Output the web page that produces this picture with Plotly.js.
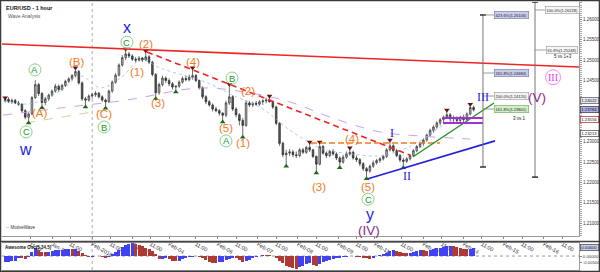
<!DOCTYPE html>
<html>
<head>
<meta charset="utf-8">
<script src="https://cdn.plot.ly/plotly-3.0.1.min.js"></script>
<style>
  html, body { margin: 0; padding: 0; background: #fff; }
  #chart { width: 600px; height: 272px; }
</style>
</head>
<body>
<div id="chart"></div>
<script>
// EUR/USD hourly wave count, drawn with two-hour candles on a trading-hour axis
// (hour 0 = Jan-31 00:00, weekends removed), plus the Awesome Oscillator below.

const FIRST_BAR_CENTER = -28;
const BAR_HOURS = 2;

const barOpen = [
  1.2400,1.2404,1.2398,1.2401,1.2395,1.2392,1.2376,1.2360,1.2368,1.2408,
  1.2440,1.2418,1.2396,1.2405,1.2414,1.2424,1.2436,1.2428,1.2438,1.2448,
  1.2454,1.2462,1.2472,1.2444,1.2405,1.2402,1.2412,1.2415,1.2419,1.2410,
  1.2402,1.2398,1.2424,1.2446,1.2463,1.2488,1.2506,1.2515,1.2510,1.2502,
  1.2500,1.2505,1.2500,1.2508,1.2495,1.2465,1.2420,1.2440,1.2456,1.2450,
  1.2442,1.2434,1.2436,1.2446,1.2455,1.2452,1.2458,1.2462,1.2450,1.2432,
  1.2410,1.2398,1.2390,1.2380,1.2376,1.2370,1.2365,1.2395,1.2410,1.2380,
  1.2366,1.2352,1.2340,1.2395,1.2390,1.2394,1.2392,1.2398,1.2400,1.2402,
  1.2398,1.2385,1.2345,1.2296,1.2268,1.2272,1.2275,1.2268,1.2266,1.2280,
  1.2274,1.2286,1.2280,1.2264,1.2245,1.2288,1.2272,1.2266,1.2276,1.2270,
  1.2260,1.2250,1.2262,1.2270,1.2274,1.2260,1.2256,1.2246,1.2234,1.2228,
  1.2240,1.2248,1.2254,1.2258,1.2264,1.2280,1.2290,1.2278,1.2266,1.2255,
  1.2252,1.2258,1.2266,1.2278,1.2288,1.2296,1.2304,1.2316,1.2328,1.2336,
  1.2346,1.2354,1.2360,1.2366,1.2356,1.2358,1.2352,1.2360,1.2354,1.2368,
  1.2384
];
const barHigh = [
  1.2408,1.2409,1.2406,1.2405,1.2400,1.2394,1.2380,1.2372,1.2412,1.2451,
  1.2444,1.2422,1.2410,1.2418,1.2428,1.2442,1.2440,1.2442,1.2452,1.2458,
  1.2466,1.2481,1.2476,1.2448,1.2410,1.2416,1.2420,1.2424,1.2422,1.2414,
  1.2406,1.2428,1.2450,1.2468,1.2492,1.2512,1.2527,1.2520,1.2514,1.2508,
  1.2510,1.2508,1.2523,1.2512,1.2498,1.2468,1.2445,1.2462,1.2460,1.2455,
  1.2446,1.2438,1.2450,1.2460,1.2462,1.2464,1.2481,1.2466,1.2452,1.2436,
  1.2414,1.2402,1.2394,1.2386,1.2380,1.2372,1.2400,1.2441,1.2414,1.2384,
  1.2370,1.2358,1.2402,1.2400,1.2398,1.2400,1.2402,1.2404,1.2408,1.2412,
  1.2400,1.2388,1.2348,1.2300,1.2280,1.2282,1.2280,1.2276,1.2284,1.2285,
  1.2290,1.2299,1.2282,1.2266,1.2299,1.2292,1.2276,1.2280,1.2282,1.2274,
  1.2264,1.2268,1.2276,1.2285,1.2278,1.2266,1.2260,1.2250,1.2238,1.2244,
  1.2254,1.2258,1.2262,1.2268,1.2284,1.2304,1.2294,1.2282,1.2270,1.2260,
  1.2262,1.2270,1.2282,1.2292,1.2300,1.2308,1.2320,1.2332,1.2340,1.2350,
  1.2358,1.2364,1.2378,1.2370,1.2364,1.2362,1.2364,1.2366,1.2372,1.2392,
  1.2388
];
const barLow = [
  1.2396,1.2395,1.2393,1.2392,1.2388,1.2372,1.2355,1.2346,1.2365,1.2405,
  1.2412,1.2383,1.2390,1.2400,1.2410,1.2420,1.2422,1.2425,1.2434,1.2444,
  1.2450,1.2458,1.2440,1.2400,1.2385,1.2398,1.2406,1.2410,1.2406,1.2398,
  1.2382,1.2395,1.2420,1.2442,1.2460,1.2484,1.2500,1.2505,1.2498,1.2494,
  1.2496,1.2495,1.2498,1.2490,1.2460,1.2405,1.2415,1.2436,1.2444,1.2436,
  1.2428,1.2422,1.2432,1.2442,1.2448,1.2448,1.2452,1.2446,1.2428,1.2405,
  1.2392,1.2386,1.2374,1.2372,1.2364,1.2348,1.2360,1.2390,1.2375,1.2360,
  1.2340,1.2311,1.2336,1.2385,1.2384,1.2388,1.2388,1.2390,1.2394,1.2396,
  1.2380,1.2340,1.2290,1.2262,1.2240,1.2265,1.2262,1.2260,1.2262,1.2270,
  1.2270,1.2275,1.2260,1.2223,1.2242,1.2268,1.2260,1.2262,1.2266,1.2255,
  1.2236,1.2246,1.2258,1.2266,1.2256,1.2250,1.2240,1.2228,1.2209,1.2224,
  1.2236,1.2244,1.2248,1.2254,1.2260,1.2276,1.2274,1.2262,1.2250,1.2236,
  1.2248,1.2254,1.2262,1.2274,1.2284,1.2290,1.2300,1.2312,1.2322,1.2332,
  1.2340,1.2348,1.2356,1.2350,1.2346,1.2344,1.2348,1.2346,1.2350,1.2364,
  1.2374
];
const barClose = [
  1.2404,1.2398,1.2401,1.2395,1.2392,1.2376,1.2360,1.2368,1.2408,1.2440,
  1.2418,1.2396,1.2405,1.2414,1.2424,1.2436,1.2428,1.2438,1.2448,1.2454,
  1.2462,1.2472,1.2444,1.2405,1.2402,1.2412,1.2415,1.2419,1.2410,1.2402,
  1.2398,1.2424,1.2446,1.2463,1.2488,1.2506,1.2515,1.2510,1.2502,1.2500,
  1.2505,1.2500,1.2508,1.2495,1.2465,1.2420,1.2440,1.2456,1.2450,1.2442,
  1.2434,1.2436,1.2446,1.2455,1.2452,1.2458,1.2462,1.2450,1.2432,1.2410,
  1.2398,1.2390,1.2380,1.2376,1.2370,1.2365,1.2395,1.2410,1.2380,1.2366,
  1.2352,1.2340,1.2395,1.2390,1.2394,1.2392,1.2398,1.2400,1.2402,1.2398,
  1.2385,1.2345,1.2296,1.2268,1.2272,1.2275,1.2268,1.2266,1.2280,1.2274,
  1.2286,1.2280,1.2264,1.2245,1.2288,1.2272,1.2266,1.2276,1.2270,1.2260,
  1.2250,1.2262,1.2270,1.2274,1.2260,1.2256,1.2246,1.2234,1.2228,1.2240,
  1.2248,1.2254,1.2258,1.2264,1.2280,1.2290,1.2278,1.2266,1.2255,1.2252,
  1.2258,1.2266,1.2278,1.2288,1.2296,1.2304,1.2316,1.2328,1.2336,1.2346,
  1.2354,1.2360,1.2366,1.2356,1.2358,1.2352,1.2360,1.2354,1.2368,1.2384,
  1.23784
];

// Awesome Oscillator (5,34,5), one value per bar
const aoValues = [
  -0.0045,-0.0043,-0.0040,-0.0034,-0.0015,-0.0018,-0.0022,-0.0005,0.0030,0.0060,
  0.0045,0.0030,0.0028,0.0032,0.0038,0.0042,0.0045,0.0048,0.0052,0.0055,
  0.0050,0.0054,0.0040,0.0022,0.0005,-0.0008,-0.0005,-0.0003,-0.0001,-0.0008,
  -0.0015,-0.0008,0.0012,0.0030,0.0048,0.0065,0.0080,0.0090,0.0095,0.0088,
  0.0080,0.0072,0.0062,0.0050,0.0035,0.0015,-0.0025,-0.0020,-0.0018,-0.0025,
  -0.0035,-0.0040,-0.0035,-0.0025,-0.0015,-0.0008,-0.0004,-0.0002,-0.0008,-0.0018,
  -0.0030,-0.0042,-0.0050,-0.0052,-0.0048,-0.0042,-0.0032,-0.0020,-0.0012,-0.0018,
  -0.0030,-0.0045,-0.0040,-0.0030,-0.0018,-0.0008,0.0002,0.0010,0.0008,0.0006,
  -0.0002,-0.0015,-0.0035,-0.0055,-0.0072,-0.0085,-0.0092,-0.0095,-0.0085,-0.0075,
  -0.0062,-0.0055,-0.0065,-0.0075,-0.0060,-0.0045,-0.0035,-0.0028,-0.0022,-0.0018,
  -0.0015,-0.0010,-0.0006,-0.0003,0.0000,-0.0004,-0.0008,-0.0013,-0.0018,-0.0020,
  -0.0012,-0.0002,0.0008,0.0016,0.0025,0.0035,0.0042,0.0040,0.0032,0.0022,
  0.0020,0.0025,0.0032,0.0040,0.0046,0.0042,0.0040,0.0045,0.0052,0.0058,
  0.0063,0.0068,0.0072,0.0074,0.0073,0.0066,0.0060,0.0055,0.0050,0.0055,
  0.0060
];

// time axis labels
const tickHours = [-13,0,11,24,35,48,59,70,86,99,110,123,134,147,158,171,182,193,209,222,233,246,257,270,281,294,305];
const tickLabels = ['11:00','Jan-31','11:00','Feb-2018','11:00','Feb-02','11:00','Feb-04','11:00','Feb-06','11:00','Feb-07','11:00',
                    'Feb-08','11:00','Feb-09','11:00','Feb-11','11:00','Feb-13','11:00','Feb-14','11:00','Feb-15','11:00','Feb-16','11:00'];
const monthStartHour = 24;

// price axis labels (levels hidden behind the value boxes are left out)
const priceTicks = [1.210, 1.215, 1.220, 1.225, 1.230, 1.245, 1.250, 1.255, 1.260];
const aoTicks = [0, -0.005];

// swing markers (bar indices)
const swingHighBars = [0,21,36,42,56,67,79,91,94,103,115,132,139];
const swingLowBars = [7,11,24,30,45,51,65,71,84,93,100,108,119];

// wave labels: text, hour, price
const minorText  = ['(A)','(B)','(C)','(1)','(2)','(3)','(4)','(5)','(1)','(2)','(3)','(4)','(5)'];
const minorHour  = [-7.2,14.9,31.1,50.8,56.2,63.4,84.3,104,114.2,117.2,159.6,179.3,188.9];
const minorPrice = [1.2370,1.2495,1.2368,1.2471,1.2539,1.2395,1.2495,1.2333,1.2297,1.2425,1.2189,1.2307,1.2189];

const circledText  = ['C','A','B','C','A','B','C'];
const circledHour  = [-15.5,-10.2,31.1,44.8,104,107.6,188.9];
const circledPrice = [1.2324,1.2476,1.2336,1.2544,1.2302,1.2456,1.2159];

const cycleText  = ['w','x','y'];
const cycleHour  = [-16.1,44.8,190.1];
const cyclePrice = [1.2280,1.2579,1.2122];

const intermText  = ['I','II','III'];
const intermHour  = [203.2,212.2,257.6];
const intermPrice = [1.2321,1.2216,1.2409];

const primaryText  = ['(IV)','(V)'];
const primaryHour  = [189.5,289.9];
const primaryPrice = [1.2083,1.2409];

const ringText = ['III'];
const ringHour = [299.5];
const ringPrice = [1.2458];

// trend lines: [hour0, price0, hour1, price1]
const resistanceLine = [-29.9, 1.25396, 315, 1.24830];
const waveChannelLine = [56.8, 1.2520, 214, 1.2267];
const wave4Level = [154.8, 1.2297, 231.9, 1.2297];
const supportLine = [188.9, 1.2209, 264.8, 1.2302];
const wave3Line = [215.8, 1.2263, 264.2, 1.2395];
const zoneTop = [233.7, 1.2358, 257.6, 1.2358];
const zoneBottom = [233.7, 1.2346, 257.6, 1.2346];

// Fibonacci projections
const wave3Hour = 257.6;
const wave3Range = [1.26106, 1.22380];
const wave3Pct = ['423.6%','261.8%','200.0%','161.8%'];
const wave3Levels = [1.26106, 1.24684, 1.24120, 1.23801];
const wave5Hour = 288.7;
const wave5Range = [1.26424, 1.22132];
const wave5Pct = ['100.0%','61.8%'];
const wave5Levels = [1.26228, 1.25248];

// price-axis markers
const axisMarks = [1.24022, 1.23556, 1.23213];

// moving averages (faint guides)
const slowAvgHour  = [-29.3,4.8,44.8,88.5,118.4,142.3,166.2,196.1,220,249.9];
const slowAvgPrice = [1.23652,1.23824,1.24022,1.24316,1.24194,1.23973,1.23605,1.23238,1.23140,1.23066];
const fastAvgHour  = [-28,-13,5,17,29,41,53,65,80,92,109,125,143,161,179,196,208,220,235,250];
const fastAvgPrice = [1.2400,1.2393,1.2425,1.2461,1.2432,1.2456,1.2500,1.2480,1.2461,1.2446,1.2412,1.2383,1.2326,1.2284,1.2270,1.2265,1.2278,1.2302,1.2343,1.2368];
const baseLineHour  = [-15.5, 31.7];
const baseLinePrice = [1.2346, 1.2378];

// ----------------------------------------------------------------------
const FONT = 'Liberation Sans, Arial, sans-serif';
const ORANGE = '#f27a1f', GREEN = '#23922a', BLUE = '#1d1de0', PURPLE = '#8a2a8f';
const AO_UP = '#4242f5', AO_DOWN = '#ad3a34';

const centers = barOpen.map((_, i) => FIRST_BAR_CENTER + i * BAR_HOURS);
const last = barClose.length - 1;

const traces = [];

traces.push({
  type: 'scatter', mode: 'lines', x: slowAvgHour, y: slowAvgPrice,
  line: { color: 'rgba(200,150,225,0.9)', width: 1, dash: 'dash', shape: 'spline' },
  xaxis: 'x', yaxis: 'y', hoverinfo: 'skip'
});
traces.push({
  type: 'scatter', mode: 'lines', x: fastAvgHour, y: fastAvgPrice,
  line: { color: 'rgba(140,180,240,0.7)', width: 1, dash: 'dot', shape: 'spline' },
  xaxis: 'x', yaxis: 'y', hoverinfo: 'skip'
});
traces.push({
  type: 'scatter', mode: 'lines', x: baseLineHour, y: baseLinePrice,
  line: { color: 'rgba(215,200,150,0.9)', width: 1, dash: 'dash' },
  xaxis: 'x', yaxis: 'y', hoverinfo: 'skip'
});

traces.push({
  type: 'candlestick', x: centers,
  open: barOpen, high: barHigh, low: barLow, close: barClose,
  increasing: { line: { color: '#333333', width: 0.7 }, fillcolor: '#b8b8b8' },
  decreasing: { line: { color: '#2a2a2a', width: 0.7 }, fillcolor: '#585858' },
  whiskerwidth: 0, xaxis: 'x', yaxis: 'y', hoverinfo: 'skip'
});

traces.push({
  type: 'scatter', mode: 'markers',
  x: swingHighBars.map(i => centers[i]), y: swingHighBars.map(i => barHigh[i]),
  marker: { symbol: 'triangle-down', size: 5, color: '#6a1010' },
  xaxis: 'x', yaxis: 'y', hoverinfo: 'skip'
});
traces.push({
  type: 'scatter', mode: 'markers',
  x: swingLowBars.map(i => centers[i]), y: swingLowBars.map(i => barLow[i]),
  marker: { symbol: 'triangle-up', size: 5, color: '#1a6a1a' },
  xaxis: 'x', yaxis: 'y', hoverinfo: 'skip'
});

traces.push({
  type: 'bar', x: centers, y: aoValues, width: BAR_HOURS * 0.9,
  marker: { color: aoValues.map((v, i) => (i === 0 || v > aoValues[i - 1]) ? AO_UP : AO_DOWN), line: { width: 0 } },
  xaxis: 'x2', yaxis: 'y2', hoverinfo: 'skip'
});

// ----------------------------------------------------------------------
const shapes = [];
const annotations = [];

function seg(c, color, width, dash) {
  shapes.push({ type: 'line', xref: 'x', yref: 'y', x0: c[0], y0: c[1], x1: c[2], y1: c[3],
                line: { color, width, dash: dash || 'solid' } });
}

// month divider through both panels
shapes.push({ type: 'line', xref: 'x', yref: 'paper', x0: monthStartHour, x1: monthStartHour, y0: 0, y1: 1,
              line: { color: '#aaaaaa', width: 1, dash: 'dot' }, layer: 'below' });
// oscillator zero line
shapes.push({ type: 'line', xref: 'paper', yref: 'y2', x0: 0, x1: 1, y0: 0, y1: 0,
              line: { color: '#999', width: 1, dash: 'dot' }, layer: 'below' });

seg(resistanceLine, '#f02424', 1.6);
seg(waveChannelLine, '#f02424', 1.6, '6px,4px');
seg(wave4Level, '#f27a1f', 1.5, '6px,3px');
seg(supportLine, '#2222dd', 1.6);
seg(wave3Line, '#1f8f1f', 1.3);
seg(zoneTop, '#a22fd6', 2);
seg(zoneBottom, '#a22fd6', 2);

// Fibonacci measurement verticals with end caps
function measure(hour, range, levels, pcts, boxHour, stubEnd, fills, borders) {
  shapes.push({ type: 'line', xref: 'x', yref: 'y', x0: hour, x1: hour, y0: range[0], y1: range[1],
                line: { color: '#777', width: 1 } });
  range.forEach(p => shapes.push({ type: 'line', xref: 'x', yref: 'y', xsizemode: 'pixel', xanchor: hour,
                x0: -3, x1: 3, y0: p, y1: p, line: { color: '#111', width: 1.3 } }));
  levels.forEach((p, k) => {
    shapes.push({ type: 'line', xref: 'x', yref: 'y', x0: hour, x1: stubEnd, y0: p, y1: p,
                  line: { color: '#888', width: 0.8 } });
    annotations.push({ xref: 'x', yref: 'y', x: boxHour, y: p, showarrow: false,
                       text: pcts[k] + '(' + p.toFixed(5) + ')',
                       font: { family: FONT, size: 4, color: '#222' },
                       bgcolor: fills[k], bordercolor: borders[k], borderwidth: 0.6, borderpad: 1 });
  });
}
measure(wave3Hour, wave3Range, wave3Levels, wave3Pct, 274.4, 266,
        ['#c9cdea', '#c9cdea', '#f3f3f3', '#d3eecb'], ['#6d74b3', '#6d74b3', '#999', '#63a65a']);
measure(wave5Hour, wave5Range, wave5Levels, wave5Pct, 305.0, 296.5,
        ['#f6f6f6', '#f6f6f6'], ['#999', '#999']);

annotations.push({ xref: 'x', yref: 'y', x: 279.7, y: 1.23578, text: '3 vs 1', showarrow: false,
                   font: { family: FONT, size: 4.5, color: '#222' } });
annotations.push({ xref: 'x', yref: 'y', x: 305.4, y: 1.2510, text: '5 vs 1+3', showarrow: false,
                   font: { family: FONT, size: 4.5, color: '#222' } });

// wave labels
function labels(texts, hours, prices, font) {
  texts.forEach((t, k) => annotations.push({ xref: 'x', yref: 'y', x: hours[k], y: prices[k], text: t,
                                             showarrow: false, font }));
}
labels(minorText, minorHour, minorPrice, { family: FONT, size: 11.5, color: ORANGE });
labels(circledText, circledHour, circledPrice, { family: FONT, size: 9.5, color: GREEN });
labels(cycleText, cycleHour, cyclePrice, { family: FONT, size: 16, color: BLUE });
labels(intermText, intermHour, intermPrice, { family: 'Liberation Serif, serif', size: 12, color: BLUE });
labels(primaryText, primaryHour, primaryPrice, { family: FONT, size: 13.5, color: PURPLE });
labels(ringText, ringHour, ringPrice, { family: 'Liberation Serif, serif', size: 10, color: '#e238e2' });

circledHour.forEach((h, k) => shapes.push({ type: 'circle', xref: 'x', yref: 'y',
  xsizemode: 'pixel', ysizemode: 'pixel', xanchor: h, yanchor: circledPrice[k],
  x0: -6, x1: 6, y0: -6, y1: 6, line: { color: '#86d286', width: 1 } }));
ringHour.forEach((h, k) => shapes.push({ type: 'circle', xref: 'x', yref: 'y',
  xsizemode: 'pixel', ysizemode: 'pixel', xanchor: h, yanchor: ringPrice[k],
  x0: -7.5, x1: 7.5, y0: -7.5, y1: 7.5, line: { color: '#f08af0', width: 1 } }));

// price-axis value boxes
function axisBox(yref, value, digits, fill, border) {
  annotations.push({ xref: 'paper', yref, x: 1, xanchor: 'left', xshift: 1, y: value,
                     text: value.toFixed(digits), showarrow: false,
                     font: { family: FONT, size: 4.3, color: '#111' },
                     bgcolor: fill, bordercolor: border, borderwidth: 0.7, borderpad: 0.5 });
}
axisBox('y', axisMarks[0], 5, '#e4e6f6', '#555');
axisBox('y', barClose[last], 5, '#aab0e6', '#333');
axisBox('y', axisMarks[1], 5, '#ffffff', '#b02020');
axisBox('y', axisMarks[2], 5, '#ffffff', '#444');
axisBox('y2', aoValues[last], 5, '#c9cdf0', '#444');

// captions
annotations.push({ xref: 'paper', yref: 'paper', x: 0.004, y: 0.995, xanchor: 'left', yanchor: 'top',
                   text: '<b>EUR/USD - 1 hour</b>', showarrow: false, font: { family: FONT, size: 5.5, color: '#111' } });
annotations.push({ xref: 'paper', yref: 'paper', x: 0.007, y: 0.965, xanchor: 'left', yanchor: 'top',
                   text: 'Wave Analysis', showarrow: false, font: { family: FONT, size: 5, color: '#555' } });
annotations.push({ xref: 'paper', yref: 'paper', x: 0.004, y: 0.142, xanchor: 'left', yanchor: 'bottom',
                   text: '◦◦ MotiveWave', showarrow: false, font: { family: FONT, size: 4.5, color: '#333' } });
annotations.push({ xref: 'paper', yref: 'paper', x: 0.002, y: 0.083, xanchor: 'left', yanchor: 'middle',
                   text: '<b>Awesome Osc(5,34,5)</b>', showarrow: false, font: { family: FONT, size: 4.5, color: '#111' } });

// panel separator and outer frame
shapes.push({ type: 'line', xref: 'paper', yref: 'paper', x0: -0.01, x1: 1.04, y0: 0.1063, y1: 0.1063,
              line: { color: '#444', width: 1.5 } });
shapes.push({ type: 'rect', xref: 'paper', yref: 'paper', x0: -0.0026, x1: 1.0355, y0: -0.0056, y1: 1.0056,
              line: { color: '#3a3a3a', width: 1.5 } });

const layout = {
  width: 600, height: 272,
  margin: { l: 2, r: 21, t: 2, b: 2 },
  paper_bgcolor: '#ffffff', plot_bgcolor: '#ffffff',
  showlegend: false, hovermode: false, bargap: 0,
  font: { family: FONT, size: 5.5, color: '#333' },
  xaxis: {
    domain: [0, 1], anchor: 'y', range: [-29.9, 315],
    tickmode: 'array', tickvals: tickHours, ticktext: tickLabels,
    tickfont: { family: FONT, size: 5.5, color: '#333' },
    ticks: 'outside', ticklen: 2, tickcolor: '#888',
    showline: true, linecolor: '#999', linewidth: 1,
    showgrid: false, zeroline: false, rangeslider: { visible: false }, fixedrange: true
  },
  xaxis2: {
    domain: [0, 1], anchor: 'y2', matches: 'x', range: [-29.9, 315],
    showticklabels: false, ticks: '', showline: true, mirror: true, linecolor: '#999',
    showgrid: false, zeroline: false, fixedrange: true
  },
  yaxis: {
    domain: [0.1269, 1], anchor: 'x', side: 'right', range: [1.20689, 1.26424],
    tickmode: 'array', tickvals: priceTicks, ticktext: priceTicks.map(v => v.toFixed(5)),
    tickfont: { family: FONT, size: 4.5, color: '#333' },
    ticks: 'outside', ticklen: 2, tickcolor: '#888',
    minor: { tickmode: 'linear', tick0: 1.2, dtick: 0.0005, ticks: 'outside', ticklen: 1.5, tickcolor: '#aaa' },
    showline: true, linecolor: '#999', showgrid: false, zeroline: false, fixedrange: true
  },
  yaxis2: {
    domain: [0, 0.1007], anchor: 'x2', side: 'right', range: [-0.0104, 0.0097],
    tickmode: 'array', tickvals: aoTicks, ticktext: aoTicks.map(v => v.toFixed(5)),
    tickfont: { family: FONT, size: 4.3, color: '#333' },
    ticks: 'outside', ticklen: 2, tickcolor: '#888',
    showline: true, linecolor: '#999', showgrid: false, zeroline: false, fixedrange: true
  },
  shapes, annotations
};

Plotly.newPlot('chart', traces, layout, { staticPlot: true, displayModeBar: false });
</script>
</body>
</html>
